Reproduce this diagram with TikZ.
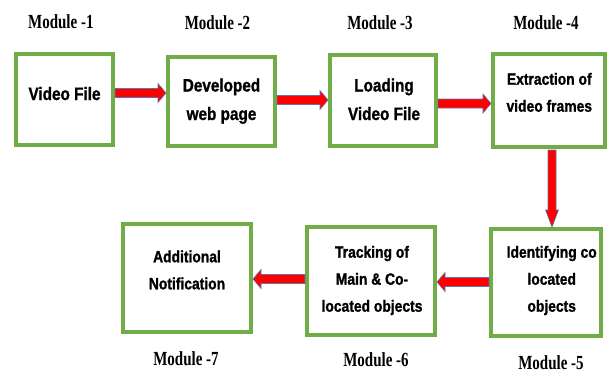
\documentclass[tikz,border=0pt]{standalone}
\usepackage{fontspec}
\usetikzlibrary{calc}
\newfontfamily\boxfont[FakeStretch=0.85,FakeBold=1.2]{Liberation Sans Bold}
\newfontfamily\modfont[FakeStretch=0.75]{Liberation Serif Bold}
\definecolor{boxgreen}{HTML}{70AD47}
\definecolor{arrowline}{HTML}{5677B3}
\definecolor{arrowfill}{HTML}{FF0000}

% horizontal block arrow from #1 to #2 (the y of #1 is used)
\newcommand\hblock[2]{%
  \path[blockarrow] let \p1=#1, \p2=#2, \n1={ifthenelse(\x2>\x1,1,-1)} in
    (\x1,\y1+4.5pt) -- (\x2-\n1*8pt,\y1+4.5pt) -- (\x2-\n1*8pt,\y1+9.5pt)
    -- (\x2,\y1) -- (\x2-\n1*8pt,\y1-9.5pt) -- (\x2-\n1*8pt,\y1-4.5pt)
    -- (\x1,\y1-4.5pt) -- cycle;}
% downward block arrow from #1 to #2 (the x of #1 is used)
\newcommand\vblock[2]{%
  \path[blockarrow] let \p1=#1, \p2=#2 in
    (\x1-4pt,\y1) -- (\x1-4pt,\y2+17pt) -- (\x1-6.5pt,\y2+17pt)
    -- (\x1,\y2) -- (\x1+6.5pt,\y2+17pt) -- (\x1+4pt,\y2+17pt)
    -- (\x1+4pt,\y1) -- cycle;}

\begin{document}
\begin{tikzpicture}[x=1pt,y=-1pt,
  modbox/.style={draw=boxgreen,line width=4pt,fill=white,inner sep=0pt},
  boxtextbig/.style={font=\boxfont\fontsize{18}{28.5}\selectfont,align=center,anchor=base,inner sep=0pt},
  boxtext/.style={font=\boxfont\fontsize{16.3}{27}\selectfont,align=center,anchor=base,inner sep=0pt},
  modlabel/.style={font=\modfont\fontsize{20}{24}\selectfont,anchor=base,inner sep=0pt},
  blockarrow/.style={fill=arrowfill,draw=arrowline,line width=0.6pt,line join=miter}]
\path[use as bounding box] (0,0) rectangle (612,372);

% module boxes
\node[modbox,minimum width=97pt,minimum height=91pt] (b1) at (64.5,99.5) {};
\node[modbox,minimum width=107pt,minimum height=89pt] (b2) at (221.5,101.5) {};
\node[modbox,minimum width=106pt,minimum height=91pt] (b3) at (383,100.5) {};
\node[modbox,minimum width=112pt,minimum height=93pt] (b4) at (549,100.5) {};
\node[modbox,minimum width=110pt,minimum height=107pt] (b5) at (546,282.5) {};
\node[modbox,minimum width=128pt,minimum height=108pt] (b6) at (371,281) {};
\node[modbox,minimum width=128pt,minimum height=108pt] (b7) at (187,278) {};

% box captions (anchored on the baseline of the last line)
\node[boxtextbig] (t1) at (64.5,100) {Video File};
\node[boxtextbig] (t2) at (221.5,120) {Developed\\web page};
\node[boxtextbig] (t3) at (384,120) {Loading\\Video File};
\node[boxtext] (t4) at (549.3,111.7) {Extraction of\\video frames};
\node[boxtext] (t5) at (551.7,311.7) {Identifying co\\located\\objects};
\node[boxtext] (t6) at (372,311.7) {Tracking of\\Main \& Co-\\located objects};
\node[boxtext] (t7) at (187,289.3) {Additional\\Notification};

% module labels
\node[modlabel] (m1) at (60.8,28.7) {Module -1};
\node[modlabel] (m2) at (217.5,29.3) {Module -2};
\node[modlabel] (m3) at (380,29.3) {Module -3};
\node[modlabel] (m4) at (546,29.3) {Module -4};
\node[modlabel] (m5) at (551,369) {Module -5};
\node[modlabel] (m6) at (376,366.7) {Module -6};
\node[modlabel] (m7) at (186,365.7) {Module -7};

% flow arrows
\hblock{($(b1.east)+(0,-6.5)$)}{(b2.west)}
\hblock{($(b2.east)+(0,-1.5)$)}{(b3.west)}
\hblock{($(b3.east)+(0,3)$)}{(b4.west)}
\vblock{($(b4.south)+(3,1)$)}{(b5.north)}
\hblock{($(b5.west)+(0,-0.5)$)}{(b6.east)}
\hblock{($(b6.west)+(0,-2)$)}{(b7.east)}
\end{tikzpicture}
\end{document}
